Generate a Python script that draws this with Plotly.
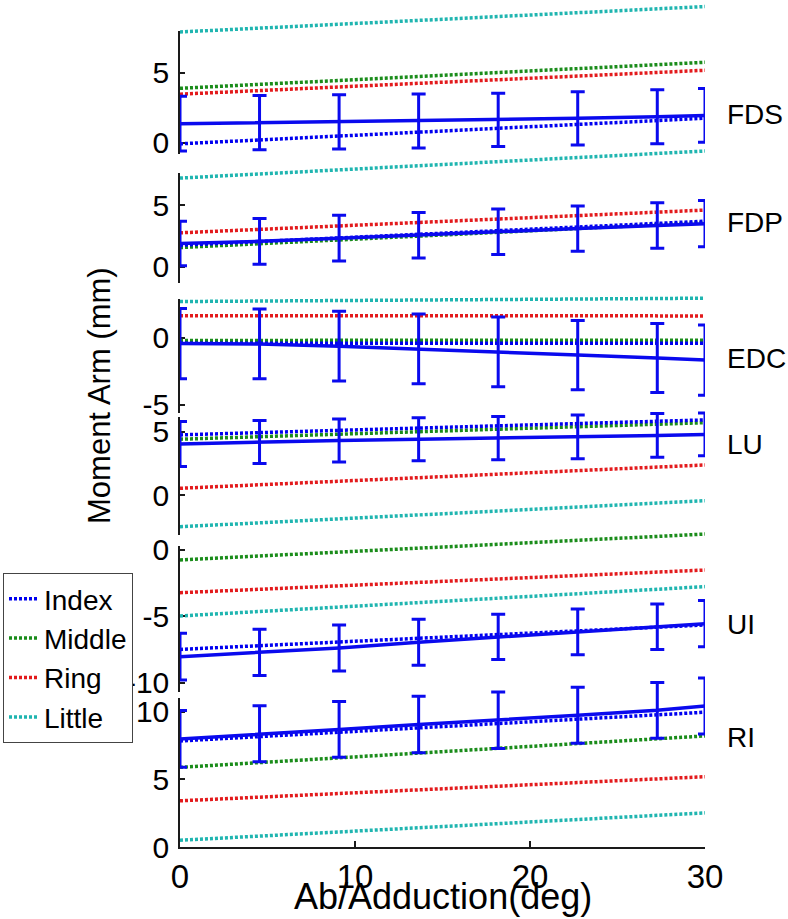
import plotly.graph_objects as go

# ---------------------------------------------------------------- data
muscles = ["FDS", "FDP", "EDC", "LU", "UI", "RI"]
fingers = ["Index", "Middle", "Ring", "Little"]

# abduction angles (deg) at which the model lines are evaluated
angle_ends = [0, 30]
# abduction angles (deg) of the measured means / error bars
angle_bars = [0, 4.545, 9.091, 13.636, 18.182, 22.727, 27.273, 30]

# model moment arms (mm) at 0 and 30 deg, one value per muscle (FDS..RI)
index_at0 = [-0.07, 1.76, -0.40, 4.74, -7.49, 7.83]
index_at30 = [1.76, 3.70, -0.40, 5.92, -5.65, 9.95]
middle_at0 = [3.90, 1.57, -0.19, 4.40, -0.75, 5.88]
middle_at30 = [5.76, 3.60, -0.17, 5.70, 1.20, 8.20]
ring_at0 = [3.48, 2.76, 1.66, 0.53, -3.22, 3.41]
ring_at30 = [5.19, 4.60, 1.64, 2.37, -1.51, 5.19]
little_at0 = [7.93, 7.19, 2.71, -2.50, -4.97, 0.50]
little_at30 = [9.75, 9.38, 2.96, -0.45, -2.76, 2.52]

# measured index-finger moment arms (mean and SD, mm)
fds_mean = [1.37, 1.45, 1.50, 1.56, 1.64, 1.75, 1.87, 1.96]
fds_sd = [1.96, 1.94, 1.94, 1.93, 1.90, 1.90, 1.93, 1.92]
fdp_mean = [1.90, 2.07, 2.33, 2.57, 2.84, 3.10, 3.36, 3.50]
fdp_sd = [1.80, 1.85, 1.86, 1.84, 1.84, 1.83, 1.84, 1.87]
edc_mean = [-0.42, -0.45, -0.62, -0.82, -1.05, -1.28, -1.50, -1.65]
edc_sd = [2.62, 2.60, 2.60, 2.60, 2.60, 2.58, 2.58, 2.62]
lu_mean = [4.02, 4.18, 4.30, 4.40, 4.48, 4.58, 4.70, 4.78]
lu_sd = [1.77, 1.69, 1.70, 1.69, 1.70, 1.72, 1.72, 1.68]
ui_mean = [-8.04, -7.72, -7.38, -6.95, -6.55, -6.17, -5.78, -5.55]
ui_sd = [1.76, 1.74, 1.73, 1.73, 1.70, 1.72, 1.71, 1.74]
ri_mean = [7.98, 8.36, 8.68, 9.04, 9.36, 9.73, 10.09, 10.41]
ri_sd = [2.10, 2.06, 2.06, 2.08, 2.08, 2.07, 2.06, 2.06]

# axis limits and ticks of each panel
panel_ylim = [(-0.8, 8.0), (-1.3, 7.6), (-5.6, 2.9), (-3.15, 6.15), (-10.7, 0.3), (0, 11)]
panel_ticks = [[0, 5], [0, 5], [-5, 0], [0, 5], [-10, -5, 0], [0, 5, 10]]
label_y = [2.0, 3.6, -1.5, 3.95, -5.58, 8.05]
x_ticks = [0, 10, 20, 30]

# ---------------------------------------------------------------- layout geometry
W, H = 788, 919
ML, MR, MT, MB = 180, 83, 0, 72
PLOT_H = H - MT - MB
PLOT_W = W - ML - MR
# vertical pixel span (top, bottom) of each panel's drawn axis
panel_px = [(31, 154), (173, 283), (299, 413), (417, 535), (546, 692), (698, 847)]

FONT = "Arial, Liberation Sans, Helvetica, sans-serif"
AX_COLOR = "#1a1a1a"
finger_colors = {"Index": "#0000f0", "Middle": "#1a8c1a", "Ring": "#e31a1c", "Little": "#1fb5b0"}
MEAN_COLOR = "#0a0aee"

means = [fds_mean, fdp_mean, edc_mean, lu_mean, ui_mean, ri_mean]
sds = [fds_sd, fdp_sd, edc_sd, lu_sd, ui_sd, ri_sd]
starts = {"Index": index_at0, "Middle": middle_at0, "Ring": ring_at0, "Little": little_at0}
ends = {"Index": index_at30, "Middle": middle_at30, "Ring": ring_at30, "Little": little_at30}

fig = go.Figure()
layout_axes = {}

for i, name in enumerate(muscles):
    top, bot = panel_px[i]
    lo, hi = panel_ylim[i]
    ppu = (bot - top) / (hi - lo)

    # visible axis: spans only the panel
    vis = i + 1
    layout_axes["yaxis" if vis == 1 else f"yaxis{vis}"] = dict(
        domain=[1 - bot / PLOT_H, 1 - top / PLOT_H],
        range=[lo, hi], anchor="x",
        showline=True, linecolor=AX_COLOR, linewidth=1.5,
        ticks="inside", ticklen=5, tickwidth=1.5, tickcolor=AX_COLOR,
        tickvals=panel_ticks[i], ticktext=[str(v) for v in panel_ticks[i]],
        showgrid=False, zeroline=False,
        tickfont=dict(family=FONT, size=30, color="black"),
        ticklabelstandoff=3,
        layer="below traces", fixedrange=True,
    )
    # empty trace so the panel axis is created
    fig.add_trace(go.Scatter(
        x=[None], y=[None], yaxis="y" if vis == 1 else f"y{vis}",
        mode="lines", showlegend=False, hoverinfo="skip",
    ))

    # data axis: same scale, but covering the whole plot height so marks are not cut
    dat = i + 7
    layout_axes[f"yaxis{dat}"] = dict(
        domain=[0, 1], anchor="x",
        range=[lo - (PLOT_H - bot) / ppu, hi + top / ppu],
        visible=False, showgrid=False, zeroline=False, fixedrange=True,
    )
    yref = f"y{dat}"

    for rank, f in zip([4, 3, 2, 1], ["Little", "Ring", "Middle", "Index"]):
        fig.add_trace(go.Scatter(
            x=angle_ends, y=[starts[f][i], ends[f][i]], yaxis=yref,
            mode="lines", name=f, legendgroup=f, legendrank=rank,
            showlegend=(i == 0),
            line=dict(color=finger_colors[f], width=3.5, dash="3px,2px"),
        ))
    fig.add_trace(go.Scatter(
        x=angle_bars, y=means[i], yaxis=yref, mode="lines",
        line=dict(color=MEAN_COLOR, width=3.5), showlegend=False,
        error_y=dict(type="data", array=sds[i], color=MEAN_COLOR, thickness=3, width=7),
    ))
    fig.add_annotation(
        x=1, xref="paper", xshift=20, xanchor="left",
        y=label_y[i], yref=yref, yanchor="middle",
        text=name, showarrow=False,
        font=dict(family=FONT, size=28, color="black"),
    )

fig.add_annotation(
    x=-80 / PLOT_W, xref="paper", y=(PLOT_H - 395) / PLOT_H, yref="paper",
    text="Moment Arm (mm)", textangle=-90, showarrow=False,
    xanchor="center", yanchor="middle",
    font=dict(family=FONT, size=31, color="black"),
)
fig.add_annotation(
    x=0.5, xref="paper", y=-49 / PLOT_H, yref="paper",
    text="Ab/Adduction(deg)", showarrow=False,
    xanchor="center", yanchor="middle",
    font=dict(family=FONT, size=36, color="black"),
)

fig.update_layout(
    width=W, height=H,
    margin=dict(l=ML, r=MR, t=MT, b=MB, autoexpand=False),
    paper_bgcolor="white", plot_bgcolor="rgba(0,0,0,0)",
    xaxis=dict(
        range=[0, 30], anchor="y6", tickvals=x_ticks,
        showline=True, linecolor=AX_COLOR, linewidth=1.5,
        ticks="inside", ticklen=6, tickwidth=1.5, tickcolor=AX_COLOR,
        showgrid=False, zeroline=False, fixedrange=True,
        tickfont=dict(family=FONT, size=33, color="black"),
        ticklabelstandoff=0,
    ),
    legend=dict(
        x=-177 / PLOT_W, xanchor="left", y=(PLOT_H - 573) / PLOT_H, yanchor="top",
        bgcolor="white", bordercolor="#444", borderwidth=1,
        font=dict(family=FONT, size=28, color="black"),
        tracegroupgap=0, itemwidth=30,
    ),
    showlegend=True,
    **layout_axes,
)

fig.write_html("out.html")
